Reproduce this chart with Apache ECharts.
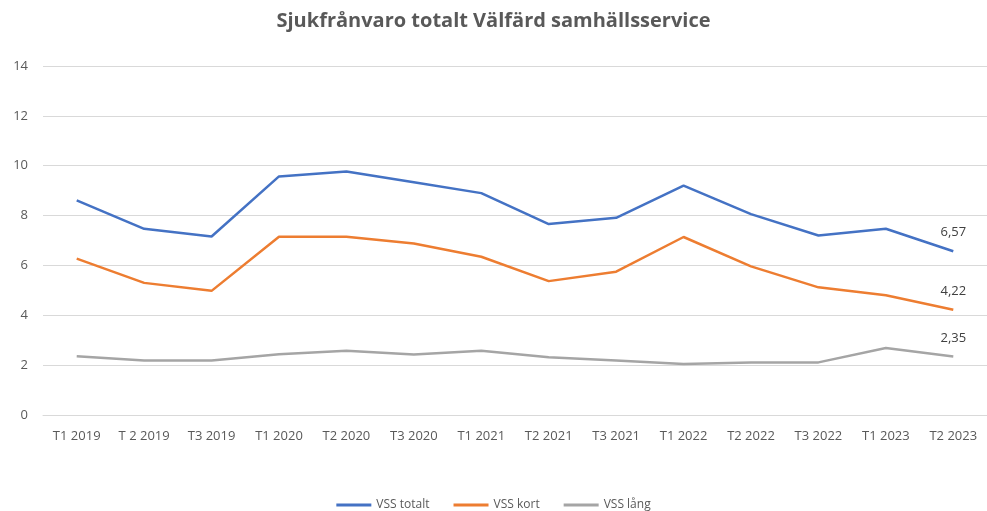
<!DOCTYPE html>
<html>
<head>
<meta charset="utf-8">
<script src="https://cdn.jsdelivr.net/npm/echarts@6/dist/echarts.min.js"></script>
<style>html,body{margin:0;padding:0;background:#fff}#c{width:987px;height:511px}</style>
</head>
<body>
<div id="c"></div>
<script>
const categories = ["T1 2019","T 2 2019","T3 2019","T1 2020","T2 2020","T3 2020","T1 2021","T2 2021","T3 2021","T1 2022","T2 2022","T3 2022","T1 2023","T2 2023"];
const vssTotalt = [8.61,7.47,7.16,9.57,9.77,9.34,8.90,7.66,7.91,9.20,8.06,7.20,7.47,6.57];
const vssKort = [6.27,5.30,4.98,7.15,7.15,6.88,6.35,5.37,5.75,7.14,5.96,5.12,4.80,4.22];
const vssLang = [2.36,2.19,2.19,2.44,2.58,2.43,2.58,2.32,2.19,2.05,2.11,2.11,2.69,2.35];
const yTicks = {min:0, max:14, interval:2};

const fmt = v => String(v).replace('.', ',');
function mkSeries(name, data, color){
  return {
    name, type:'line', data, symbol:'circle', symbolSize:0, showSymbol:true, smooth:false,
    lineStyle:{color, width:2.5}, itemStyle:{color},
    label:{show:true, position:'top', distance:12, color:'#404040', fontSize:13,
      fontFamily:'Open Sans',
      formatter: p => p.dataIndex === data.length-1 ? fmt(p.value) : ''}
  };
}
const chart = echarts.init(document.getElementById('c'));
chart.setOption({
  animation:false,
  title:{text:'Sjukfrånvaro totalt Välfärd samhällsservice', left:'center', top:6,
    textStyle:{fontSize:20, fontWeight:'bold', color:'#595959', fontFamily:'Open Sans'}},
  grid:{left:43, width:947, top:66, height:349},
  legend:{top:494, left:'center', itemWidth:35, itemHeight:3, itemGap:24,
    icon:'rect',
    textStyle:{color:'#595959', fontSize:12, fontFamily:'Open Sans'},
    data:['VSS totalt','VSS kort','VSS lång']},
  xAxis:{type:'category', data:categories, boundaryGap:true,
    axisLine:{lineStyle:{color:'#d9d9d9'}}, axisTick:{show:false},
    axisLabel:{color:'#595959', fontSize:13, margin:15, fontFamily:'Open Sans', interval:0}},
  yAxis:{type:'value', min:yTicks.min, max:yTicks.max, interval:yTicks.interval,
    axisLine:{show:false}, axisTick:{show:false},
    splitLine:{lineStyle:{color:'#d9d9d9', width:1}},
    axisLabel:{color:'#595959', fontSize:13, margin:15, fontFamily:'Open Sans'}},
  series:[
    mkSeries('VSS totalt', vssTotalt, '#4472C4'),
    mkSeries('VSS kort', vssKort, '#ED7D31'),
    mkSeries('VSS lång', vssLang, '#A5A5A5')
  ]
});
</script>
</body>
</html>
